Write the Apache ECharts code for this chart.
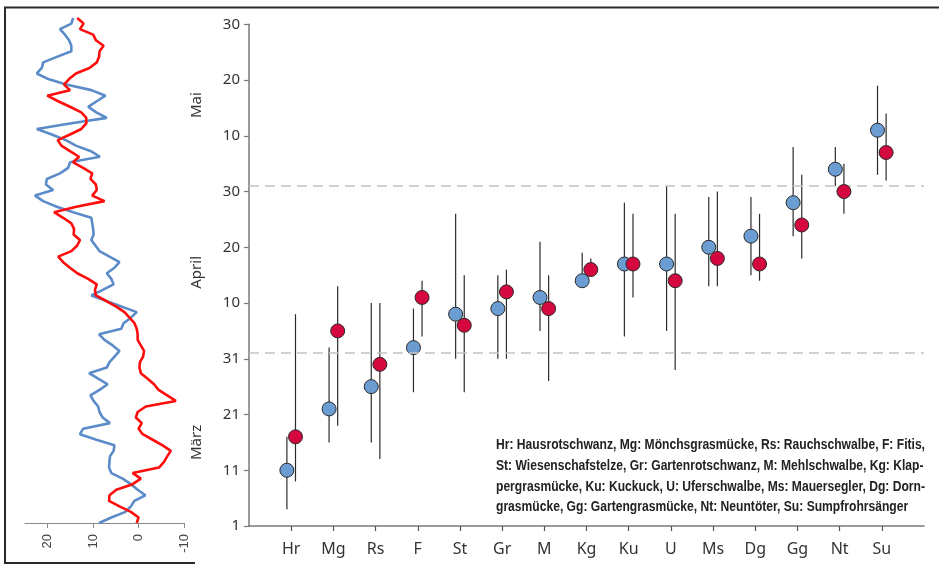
<!DOCTYPE html>
<html>
<head>
<meta charset="utf-8">
<script src="https://cdn.jsdelivr.net/npm/echarts@6/dist/echarts.min.js"></script>
<style>
  html, body { margin: 0; padding: 0; background: #fff; }
  #chart { width: 939px; height: 571px; }
</style>
</head>
<body>
<div id="chart"></div>
<script>
// species (x categories), arrival day offsets from 1 March
const species = ['Hr', 'Mg', 'Rs', 'F', 'St', 'Gr', 'M', 'Kg', 'Ku', 'U', 'Ms', 'Dg', 'Gg', 'Nt', 'Su'];
const blueMean = [10, 21, 25, 32, 38, 39, 41, 44, 47, 47, 50, 52, 58, 64, 71];
const blueLow  = [3, 15, 15, 24, 30, 30, 35, 43, 34, 35, 43, 45, 52, 61, 63];
const blueHigh = [16, 32, 40, 39, 56, 45, 51, 49, 58, 61, 59, 59, 68, 68, 79];
const redMean  = [16, 35, 29, 41, 36, 42, 39, 46, 47, 44, 48, 47, 54, 60, 67];
const redLow   = [8, 18, 12, 34, 24, 30, 26, 45, 41, 28, 43, 44, 48, 56, 62];
const redHigh  = [38, 43, 40, 44, 45, 46, 45, 48, 56, 56, 60, 56, 63, 65, 74];

const yTickLabels = ['1', '11', '21', '31', '10', '20', '30', '10', '20', '30'];
const months = ['März', 'April', 'Mai'];
const monthMid = [15, 45.5, 75.5];
const monthBreaks = [31, 61];

// left panel: daily values, 1 March .. 31 May
const blueLine = [8.7, 6.0, 2.9, 1.7, 0.9, -1.5, 0.2, 1.7, 3.5, 6.0, 6.5, 6.4, 6.3, 5.5, 5.3, 9.3,
  12.9, 12.2, 6.3, 7.9, 8.6, 8.9, 9.9, 10.6, 8.6, 6.8, 8.9, 10.9, 7.0, 6.4, 5.3, 4.2, 5.7, 7.5,
  8.7, 3.8, 3.3, 1.7, 0.4, 3.8, 7.1, 10.4, 7.9, 5.5, 6.0, 7.0, 5.3, 4.2, 6.4, 8.6, 9.5, 10.4,
  9.9, 10.0, 10.2, 10.4, 14.4, 18.0, 21.0, 22.8, 18.8, 20.4, 20.2, 17.3, 15.5, 15.1, 8.5, 10.5,
  13.8, 16.0, 19.1, 22.4, 15.1, 7.0, 9.3, 11.1, 9.2, 7.3, 10.4, 15.9, 19.9, 22.4, 21.3, 21.0,
  18.0, 14.8, 14.8, 15.3, 16.2, 17.3, 14.8, 14.4];
const redLine = [0.4, 0, 1.7, 4.2, 6.5, 6.4, 4.9, 1.3, -0.5, 1.3, -4.5, -5.6, -6.3, -7.1, -5.3,
  -3.1, -0.9, 0, -0.7, 0.6, 0.2, -1.6, -8.2, -6.3, -4.4, -3.4, -2.0, -0.5, -0.2, -0.3, -1.0,
  -1.2, -0.5, 0.2, 0.2, 0.4, 0.9, 2.0, 3.1, 4.9, 7.1, 9.4, 9.6, 9.2, 11.1, 13.5, 15.1, 16.6,
  17.7, 14.8, 13.5, 12.9, 14.3, 14.2, 14.8, 16.6, 18.6, 13.7, 7.5, 10.2, 9.2, 9.4, 10.6, 10.2,
  12.2, 14.4, 13.1, 15.1, 17.0, 17.8, 15.1, 12.6, 11.5, 11.5, 12.6, 15.1, 17.7, 20.1, 15.1,
  16.4, 15.3, 13.8, 10.8, 9.2, 8.7, 8.6, 7.7, 9.4, 10.0, 12.9, 12.1, 13.5];
const tempTicks = [20, 10, 0, -10];

const legendLines = [
  'Hr: Hausrotschwanz, Mg: Mönchsgrasmücke, Rs: Rauchschwalbe, F: Fitis,',
  'St: Wiesenschafstelze, Gr: Gartenrotschwanz, M: Mehlschwalbe, Kg: Klap-',
  'pergrasmücke, Ku: Kuckuck, U: Uferschwalbe, Ms: Mauersegler, Dg: Dorn-',
  'grasmücke, Gg: Gartengrasmücke, Nt: Neuntöter, Su: Sumpfrohrsänger'
];

const BLUE_DOT = '#6c9dd2';
const RED_DOT = '#d5073f';
const font = '"Noto Sans", "Open Sans", sans-serif';
const legendFont = 'bold 15px "Liberation Sans", Arial, sans-serif';

const chart = echarts.init(document.getElementById('chart'), null, { renderer: 'canvas' });

function whiskers(low, high, dx) {
  return {
    type: 'custom',
    xAxisIndex: 1,
    yAxisIndex: 1,
    z: 1,
    silent: true,
    data: low.map((l, i) => [i + 1, l, high[i]]),
    renderItem: (params, api) => {
      const a = api.coord([api.value(0), api.value(1)]);
      const b = api.coord([api.value(0), api.value(2)]);
      return {
        type: 'line',
        shape: { x1: a[0] + dx, y1: a[1], x2: b[0] + dx, y2: b[1] },
        style: { stroke: '#2b2b2b', lineWidth: 1.2 }
      };
    }
  };
}

const option = {
  animation: false,
  backgroundColor: '#fff',
  grid: [
    { left: 25, right: 755, top: 18, bottom: 48 },
    { left: 249, right: 15, top: 24.3, bottom: 45 }
  ],
  xAxis: [
    {
      gridIndex: 0, type: 'value', min: -10, max: 25, inverse: true, offset: 3,
      splitLine: { show: false },
      axisLine: { lineStyle: { color: '#8a8a8a', width: 1 } },
      axisTick: { customValues: tempTicks, length: 5, lineStyle: { color: '#8a8a8a' } },
      axisLabel: {
        customValues: tempTicks, rotate: 90, margin: 8,
        fontSize: 13, color: '#444', fontFamily: '"Liberation Sans", Arial, sans-serif'
      }
    },
    {
      gridIndex: 1, type: 'value', min: 0, max: 16,
      splitLine: { show: false },
      axisLine: { lineStyle: { color: '#7a7a7a', width: 1.5 } },
      axisTick: { customValues: species.map((s, i) => i + 1), length: 5, lineStyle: { color: '#555', width: 1.2 } },
      axisLabel: {
        customValues: species.map((s, i) => i + 1),
        formatter: v => species[v - 1],
        margin: 15, fontSize: 16, color: '#333', fontFamily: font
      }
    }
  ],
  yAxis: [
    { gridIndex: 0, type: 'value', min: 0, max: 91, show: false },
    {
      gridIndex: 1, type: 'value', min: 0, max: 90, interval: 10,
      splitLine: { show: false },
      axisLine: { show: true, lineStyle: { color: '#7a7a7a', width: 1.5 } },
      axisTick: { show: true, length: 5, lineStyle: { color: '#7a7a7a', width: 1.2 } },
      axisLabel: {
        formatter: v => yTickLabels[Math.round(v / 10)],
        margin: 9, fontSize: 15, color: '#333', fontFamily: font
      }
    }
  ],
  series: [
    {
      type: 'line', xAxisIndex: 0, yAxisIndex: 0, showSymbol: false, silent: true,
      data: blueLine.map((v, i) => [v, i]),
      lineStyle: { color: '#5b8bc8', width: 2.6 }, z: 2
    },
    {
      type: 'line', xAxisIndex: 0, yAxisIndex: 0, showSymbol: false, silent: true,
      data: redLine.map((v, i) => [v, i]),
      lineStyle: { color: '#ff0d0d', width: 2.6 }, z: 3
    },
    whiskers(blueLow, blueHigh, -4.3),
    whiskers(redLow, redHigh, 4.3),
    {
      type: 'scatter', xAxisIndex: 1, yAxisIndex: 1, z: 4,
      symbolSize: 14, symbolOffset: [-4.3, 0],
      data: blueMean.map((v, i) => [i + 1, v]),
      itemStyle: { color: BLUE_DOT, borderColor: '#2a2a2a', borderWidth: 1, opacity: 1 },
      markLine: {
        silent: true, symbol: 'none', label: { show: false },
        lineStyle: { color: '#c4c4c4', width: 1.5, type: [10, 6] },
        data: monthBreaks.map(v => ({ yAxis: v }))
      }
    },
    {
      type: 'scatter', xAxisIndex: 1, yAxisIndex: 1, z: 5,
      symbolSize: 14, symbolOffset: [4.3, 0],
      data: redMean.map((v, i) => [i + 1, v]),
      itemStyle: { color: RED_DOT, borderColor: '#2a2a2a', borderWidth: 1, opacity: 1 }
    }
  ]
};

chart.setOption(option);

// squeeze the key text to the narrow width used in the print
const ctx = document.createElement('canvas').getContext('2d');
ctx.font = legendFont;
const widest = Math.max(...legendLines.map(l => ctx.measureText(l).width));
const squeeze = 429 / widest;

// month names beside the date axis, frame and species key
const graphics = months.map((m, i) => {
  const y = chart.convertToPixel({ yAxisIndex: 1 }, monthMid[i]);
  return {
    type: 'text', x: 197, y: y, rotation: Math.PI / 2,
    style: {
      text: m, fontSize: 15, fill: '#333', fontFamily: font,
      align: 'center', verticalAlign: 'middle'
    }
  };
});
graphics.push({
  type: 'polyline', silent: true,
  shape: { points: [[939, 7.5], [5, 7.5], [5, 563], [195, 563]] },
  style: { fill: 'none', stroke: '#2a2a2a', lineWidth: 2 }
});
graphics.push({
  type: 'text', x: 496, y: 435, scaleX: squeeze,
  style: {
    text: legendLines.join('\n'), lineHeight: 20.6,
    font: legendFont, fill: '#222'
  }
});
chart.setOption({ graphic: graphics });
</script>
</body>
</html>
